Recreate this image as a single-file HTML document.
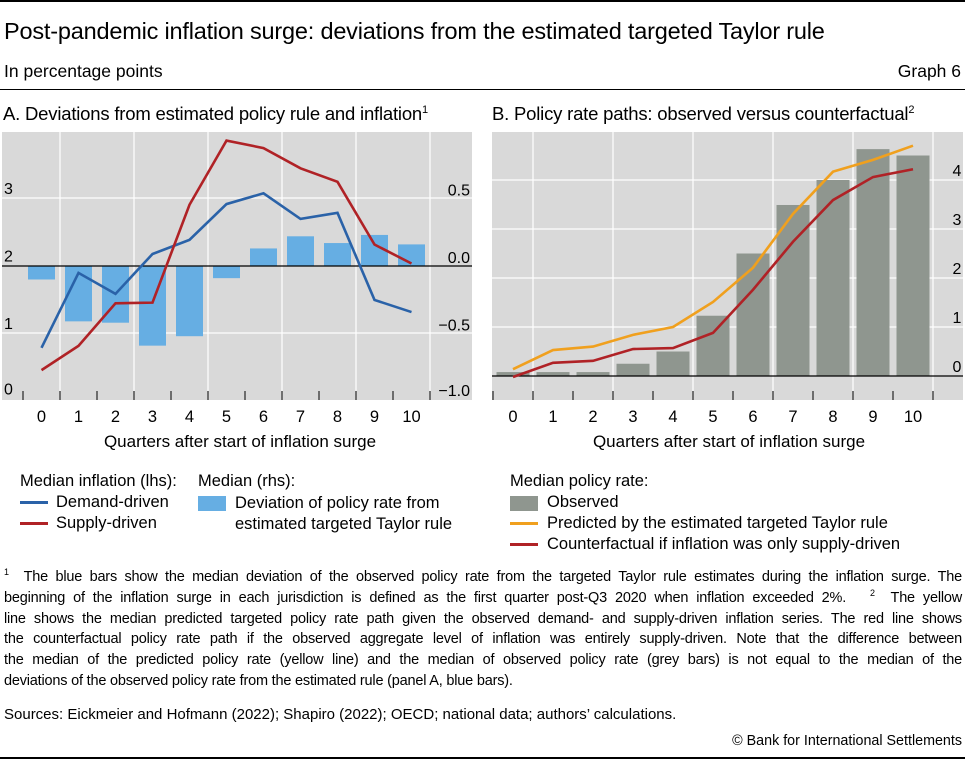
<!DOCTYPE html>
<html><head><meta charset="utf-8"><style>
body{margin:0;width:965px;height:760px;background:#fff;font-family:"Liberation Sans",sans-serif;color:#000;position:relative;overflow:hidden}
.t{position:absolute;white-space:nowrap}
sup{line-height:0}
#notes{position:absolute;left:4px;top:567px;width:958px;font-size:14.5px;line-height:20.8px;letter-spacing:-0.2px}
#notes div{text-align:justify;text-align-last:justify;white-space:nowrap;height:20.8px}
#notes div.last{text-align-last:left}
.lg{font-size:16.5px}
</style></head><body>
<div style="position:absolute;left:0;top:0;width:965px;height:2px;background:#000"></div>
<div class="t" style="left:4px;top:18px;font-size:23.5px;letter-spacing:-0.2px">Post-pandemic inflation surge: deviations from the estimated targeted Taylor rule</div>
<div class="t" style="left:4px;top:61px;font-size:17.5px">In percentage points</div>
<div class="t" style="right:4px;top:61px;font-size:17.5px">Graph 6</div>
<div style="position:absolute;left:0;top:89px;width:965px;height:1px;background:#000"></div>
<div class="t" style="left:3px;top:103px;font-size:18.5px;letter-spacing:-0.2px">A. Deviations from estimated policy rule and inflation<sup style="font-size:11px">1</sup></div>
<div class="t" style="left:492px;top:103px;font-size:18.5px;letter-spacing:-0.2px">B. Policy rate paths: observed versus counterfactual<sup style="font-size:11px">2</sup></div>

<svg id="chart" width="965" height="760" style="position:absolute;left:0;top:0" font-family="Liberation Sans, sans-serif"></svg>

<div class="t lg" style="left:20px;top:472px">Median inflation (lhs):</div>
<div class="t lg" style="left:20px;top:493px"><span style="display:inline-block;width:28px;height:3px;background:#2a62a8;vertical-align:middle;margin-right:8px"></span>Demand-driven</div>
<div class="t lg" style="left:20px;top:514px"><span style="display:inline-block;width:28px;height:3px;background:#b02226;vertical-align:middle;margin-right:8px"></span>Supply-driven</div>
<div class="t lg" style="left:198px;top:472px">Median (rhs):</div>
<div style="position:absolute;left:198px;top:496px;width:28px;height:15px;background:#66aee3"></div>
<div class="t lg" style="left:235px;top:493px;line-height:21px">Deviation of policy rate from<br>estimated targeted Taylor rule</div>
<div class="t lg" style="left:510px;top:472px">Median policy rate:</div>
<div style="position:absolute;left:510px;top:496px;width:28px;height:15px;background:#8f968f"></div>
<div class="t lg" style="left:547px;top:493px">Observed</div>
<div class="t lg" style="left:510px;top:514px"><span style="display:inline-block;width:28px;height:3px;background:#f0a01e;vertical-align:middle;margin-right:9px"></span>Predicted by the estimated targeted Taylor rule</div>
<div class="t lg" style="left:510px;top:535px"><span style="display:inline-block;width:28px;height:3px;background:#b02226;vertical-align:middle;margin-right:9px"></span>Counterfactual if inflation was only supply-driven</div>

<div id="notes">
<div><sup style="font-size:9px">1</sup>&nbsp; The blue bars show the median deviation of the observed policy rate from the targeted Taylor rule estimates during the inflation surge. The</div>
<div>beginning of the inflation surge in each jurisdiction is defined as the first quarter post-Q3 2020 when inflation exceeded 2%. &nbsp; <sup style="font-size:9px">2</sup>&nbsp; The yellow</div>
<div>line shows the median predicted targeted policy rate path given the observed demand- and supply-driven inflation series. The red line shows</div>
<div>the counterfactual policy rate path if the observed aggregate level of inflation was entirely supply-driven. Note that the difference between</div>
<div>the median of the predicted policy rate (yellow line) and the median of observed policy rate (grey bars) is not equal to the median of the</div>
<div class="last">deviations of the observed policy rate from the estimated rule (panel A, blue bars).</div>
</div>
<div class="t" style="left:4px;top:706px;font-size:15px">Sources: Eickmeier and Hofmann (2022); Shapiro (2022); OECD; national data; authors’ calculations.</div>
<div class="t" style="right:3px;top:733px;font-size:14.3px">© Bank for International Settlements</div>
<div style="position:absolute;left:0;top:757px;width:965px;height:2px;background:#000"></div>

<script>
const quarters=[0,1,2,3,4,5,6,7,8,9,10];
const demandDriven=[0.78,1.89,1.58,2.17,2.38,2.91,3.07,2.69,2.78,1.49,1.31];
const supplyDriven=[0.45,0.81,1.44,1.45,2.9,3.85,3.74,3.44,3.24,2.31,2.03];
const deviation=[-0.10,-0.41,-0.42,-0.59,-0.52,-0.09,0.13,0.22,0.17,0.23,0.16];
const leftTicks=[0,1,2,3];
const rightTicks=["−1.0","−0.5","0.0","0.5"];
const rightTickVals=[-1,-0.5,0,0.5];
const observed=[0.08,0.08,0.08,0.25,0.5,1.23,2.5,3.49,4.0,4.63,4.5];
const predicted=[0.14,0.53,0.6,0.84,1.0,1.51,2.21,3.31,4.17,4.41,4.7];
const counterfactual=[-0.02,0.27,0.31,0.55,0.57,0.88,1.76,2.74,3.59,4.06,4.22];
const bTicks=[0,1,2,3,4];

const svg=document.getElementById('chart');
const NS='http://www.w3.org/2000/svg';
function mk(tag,attrs,parent){const e=document.createElementNS(NS,tag);for(const k in attrs)e.setAttribute(k,attrs[k]);(parent||svg).appendChild(e);return e;}
function txt(x,y,s,anchor,size,parent){const e=mk('text',{x:x,y:y,'text-anchor':anchor,'font-size':size,fill:'#000'},parent);e.textContent=s;return e;}

// Panel A
const A={x0:2,x1:472,y0:132,y1:400,slot0:23,slotW:37};
const axL=v=>400.5-v*67.5;
const axR=v=>266-v*135;
const xA=i=>A.slot0+A.slotW*(i+0.5);
const gA=mk('g',{});


mk('rect',{x:A.x0,y:A.y0,width:A.x1-A.x0,height:A.y1-A.y0,fill:'#d9d9d9'},gA);
for(let i=1;i<=11;i+=2){mk('line',{x1:A.slot0+A.slotW*i,x2:A.slot0+A.slotW*i,y1:A.y0,y2:A.y1,stroke:'#fff','stroke-width':1.2},gA);}
leftTicks.forEach(v=>{if(v>0&&v!==2)mk('line',{x1:A.x0,x2:A.x1,y1:axL(v),y2:axL(v),stroke:'#fff','stroke-width':1.2},gA);});
for(let i=0;i<=11;i++){mk('line',{x1:A.slot0+A.slotW*i,x2:A.slot0+A.slotW*i,y1:A.y1-9,y2:A.y1,stroke:'#000','stroke-width':1}, gA);}
deviation.forEach((v,i)=>{const y0=axR(0),y=axR(v);const r=mk('rect',{x:xA(i)-13.5,y:Math.min(y0,y),width:27,height:Math.abs(y-y0),fill:'#66aee3'},gA);

});
mk('line',{x1:A.x0,x2:A.x1,y1:axR(0),y2:axR(0),stroke:'#000','stroke-width':1.2},gA);
const pd=mk('polyline',{points:demandDriven.map((v,i)=>xA(i)+','+axL(v)).join(' '),fill:'none',stroke:'#2a62a8','stroke-width':2.6},gA);


const ps=mk('polyline',{points:supplyDriven.map((v,i)=>xA(i)+','+axL(v)).join(' '),fill:'none',stroke:'#b02226','stroke-width':2.6},gA);


leftTicks.forEach(v=>txt(4,axL(v)-4+(v===0?-2:0),String(v),'start',16,gA));
rightTickVals.forEach((v,i)=>txt(470,axR(v)-3+(v===-1?-2:0),rightTicks[i],'end',16,gA));
quarters.forEach((q,i)=>txt(xA(i),422,String(q),'middle',16.5,gA));
txt(240,447,'Quarters after start of inflation surge','middle',17,gA);

// Panel B
const B={x0:492,x1:963,y0:132,y1:400,slot0:493,slotW:40};
const axB=v=>376-v*49;
const xB=i=>B.slot0+B.slotW*(i+0.5);
const gB=mk('g',{});


mk('rect',{x:B.x0,y:B.y0,width:B.x1-B.x0,height:B.y1-B.y0,fill:'#d9d9d9'},gB);
for(let i=1;i<=11;i+=2){mk('line',{x1:B.slot0+B.slotW*i,x2:B.slot0+B.slotW*i,y1:B.y0,y2:B.y1,stroke:'#fff','stroke-width':1.2},gB);}
bTicks.forEach(v=>{if(v>0)mk('line',{x1:B.x0,x2:B.x1,y1:axB(v),y2:axB(v),stroke:'#fff','stroke-width':1.2},gB);});
for(let i=0;i<=11;i++){mk('line',{x1:B.slot0+B.slotW*i,x2:B.slot0+B.slotW*i,y1:B.y1-9,y2:B.y1,stroke:'#000','stroke-width':1},gB);}
observed.forEach((v,i)=>{const y0=axB(0),y=axB(v);const r=mk('rect',{x:xB(i)-16.5,y:Math.min(y0,y),width:33,height:Math.abs(y-y0),fill:'#8f968f'},gB);

});
mk('line',{x1:B.x0,x2:B.x1,y1:axB(0),y2:axB(0),stroke:'#000','stroke-width':1.2},gB);
const py=mk('polyline',{points:predicted.map((v,i)=>xB(i)+','+axB(v)).join(' '),fill:'none',stroke:'#f0a01e','stroke-width':2.6},gB);


const pc=mk('polyline',{points:counterfactual.map((v,i)=>xB(i)+','+axB(v)).join(' '),fill:'none',stroke:'#b02226','stroke-width':2.6},gB);


bTicks.forEach(v=>txt(957,axB(v)-4,String(v),'middle',16,gB));
quarters.forEach((q,i)=>txt(xB(i),422,String(q),'middle',16.5,gB));
txt(729,447,'Quarters after start of inflation surge','middle',17,gB);
</script>
</body></html>
